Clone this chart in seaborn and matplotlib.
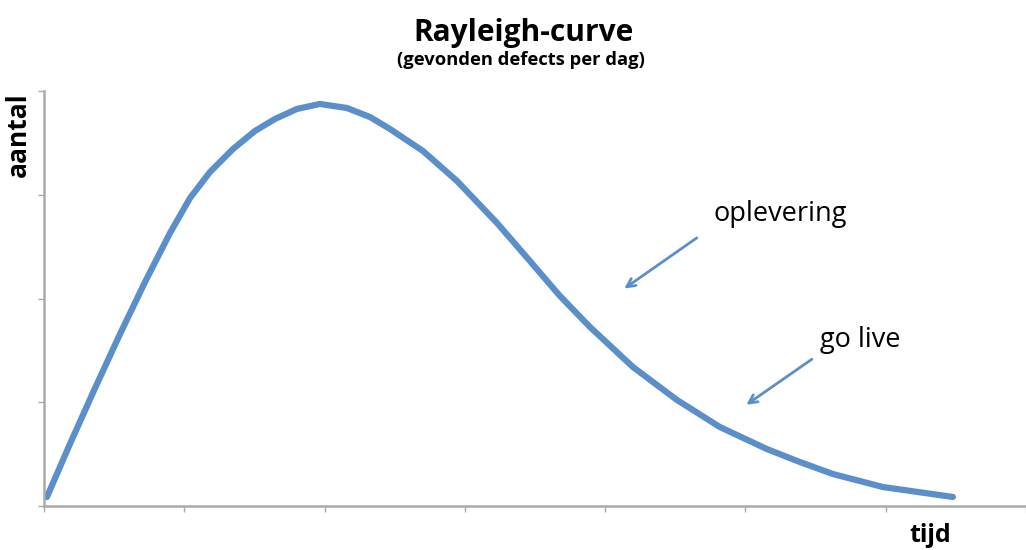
import matplotlib
matplotlib.use('Agg')
import matplotlib.pyplot as plt
import seaborn as sns

# curve (x in tick units, y in tick units)
tijd = [0.021, 0.185, 0.364, 0.542, 0.720, 0.898, 1.041, 1.183, 1.347, 1.504,
        1.646, 1.803, 1.967, 2.160, 2.324, 2.466, 2.701, 2.944, 3.229, 3.464,
        3.678, 3.892, 4.198, 4.512, 4.818, 5.153, 5.388, 5.624, 5.980, 6.479]
aantal = [0.087, 0.598, 1.137, 1.658, 2.159, 2.631, 2.969, 3.219, 3.441, 3.615,
          3.730, 3.827, 3.875, 3.836, 3.749, 3.634, 3.422, 3.133, 2.728, 2.361,
          2.024, 1.725, 1.340, 1.022, 0.761, 0.549, 0.424, 0.308, 0.183, 0.087]

labels = ['oplevering', 'go live']
label_xy = [(5.25, 2.81), (5.82, 1.60)]
arrow_tail = [(4.67, 2.60), (5.49, 1.43)]
arrow_head = [(4.12, 2.08), (4.99, 0.96)]

blue = '#5B8FCA'
grey = '#AAAAAA'

sns.set_style('white')
plt.rcParams['font.family'] = ['Open Sans', 'DejaVu Sans']

fig = plt.figure(figsize=(10.26, 5.5), dpi=100)
ax = fig.add_axes([44 / 1026, 44 / 550, 1 - 44 / 1026, (506 - 91) / 550])

sns.lineplot(x=tijd, y=aantal, ax=ax, color=blue, linewidth=4.5,
             solid_capstyle='round', solid_joinstyle='round', sort=False)

ax.set_xlim(0, 7)
ax.set_ylim(0, 4)
ax.set_xticks(range(8))
ax.set_yticks(range(5))
ax.set_xticklabels([])
ax.set_yticklabels([])
ax.tick_params(axis='both', length=4, width=1, color=grey, direction='out',
               bottom=True, left=True)
for side in ['top', 'right']:
    ax.spines[side].set_visible(False)
for side in ['left', 'bottom']:
    ax.spines[side].set_color(grey)
    ax.spines[side].set_linewidth(1.8)

for text, xy, tail, head in zip(labels, label_xy, arrow_tail, arrow_head):
    ax.text(xy[0], xy[1], text, fontsize=19.5, ha='center', va='center',
            color='black')
    ax.annotate('', xy=head, xytext=tail,
                arrowprops=dict(arrowstyle='->,head_length=0.6,head_width=0.3',
                                color=blue, lw=2))

fig.text(523 / 1026, 1 - 33 / 550, 'Rayleigh-curve', fontsize=21.5,
         fontweight='bold', ha='center', va='center', color='black')
fig.text(521 / 1026, 1 - 60 / 550, '(gevonden defects per dag)', fontsize=13.2,
         fontweight='bold', ha='center', va='center', color='black')
fig.text(18 / 1026, 1 - 135 / 550, 'aantal', fontsize=19, fontweight='bold',
         rotation=90, ha='center', va='center', color='black')
fig.text(930 / 1026, 1 - 535 / 550, 'tijd', fontsize=18, fontweight='bold',
         ha='center', va='center', color='black')

fig.savefig('out.png', dpi=100)
